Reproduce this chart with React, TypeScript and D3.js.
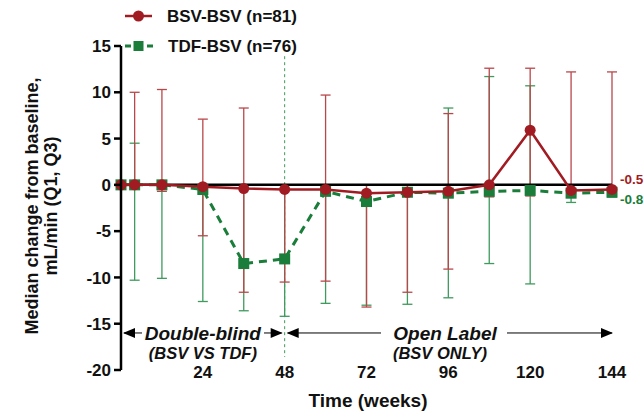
import React from "react";
import * as d3 from "d3";

const weeks = [0, 4, 12, 24, 36, 48, 60, 72, 84, 96, 108, 120, 132, 144];
const bsvMedian = [0, 0, 0, -0.2, -0.4, -0.5, -0.5, -0.9, -0.8, -0.7, 0, 5.9, -0.6, -0.5];
const bsvQ3: (number | null)[] = [null, 10, 10.3, 7.1, 8.3, 0, 9.7, 0, 0, 7.7, 12.6, 12.6, 12.2, 12.2];
const bsvQ1: (number | null)[] = [null, 0, -0.7, -5.5, -11.6, -10.5, -10.4, -13.2, -11.6, -9.1, -1.3, -1.2, -1.2, -1.2];
const tdfMedian = [0, 0, 0, -0.5, -8.5, -8.0, -0.7, -1.8, -0.8, -0.9, -0.7, -0.6, -0.9, -0.8];
const tdfQ3: (number | null)[] = [null, 4.5, 0, 0, 0, 0, 0, 0, 0, 8.3, 11.7, 10.7, -0.5, -0.5];
const tdfQ1: (number | null)[] = [null, -10.3, -10.1, -12.6, -13.6, -14.2, -12.8, -13.0, -12.9, -12.2, -8.5, -10.7, -1.9, -1.3];

const yTicks = [15, 10, 5, 0, -5, -10, -15, -20];
const xTicks = [24, 48, 72, 96, 120, 144];
const seriesNames = ["BSV-BSV (n=81)", "TDF-BSV (n=76)"];
const endLabels = ["-0.5", "-0.8"];

const RED = "#a11c22";
const RED_BAR = "#b9474a";
const GREEN = "#1a7d3a";
const GREEN_BAR = "#3f9a5d";
const FONT = "'Liberation Sans', Arial, sans-serif";

export default function App() {
  const x = d3.scaleLinear().domain([0, 144]).range([121, 612]);
  const y = d3.scaleLinear().domain([-20, 15]).range([370, 46]);

  const line = d3
    .line<number>()
    .x((_, i) => x(weeks[i]))
    .y((d) => y(d));

  const errorBars = (q1: (number | null)[], q3: (number | null)[], color: string) =>
    weeks.map((w, i) => {
      const lo = q1[i];
      const hi = q3[i];
      if (lo === null || hi === null) return null;
      const cx = x(w);
      return (
        <g key={i} stroke={color} strokeWidth={1.3}>
          <line x1={cx} x2={cx} y1={y(hi)} y2={y(lo)} />
          <line x1={cx - 5} x2={cx + 5} y1={y(hi)} y2={y(hi)} />
          <line x1={cx - 5} x2={cx + 5} y1={y(lo)} y2={y(lo)} />
        </g>
      );
    });

  const arrowY = y(-16);
  const head = (tipX: number, dir: number) => {
    const pts = [
      [tipX, arrowY],
      [tipX - dir * 12, arrowY - 5],
      [tipX - dir * 12, arrowY + 5],
    ];
    return <polygon points={pts.map((p) => p.join(",")).join(" ")} fill="#000" />;
  };

  return (
    <svg
      width={644}
      height={415}
      style={{ position: "absolute", left: 0, top: 0, background: "#fff" }}
      fontFamily={FONT}
    >
      {/* legend */}
      <g>
        <line x1={125} x2={152} y1={16} y2={16} stroke={RED} strokeWidth={2.5} />
        <circle cx={138.5} cy={16} r={5.5} fill={RED} />
        <text x={167} y={16} dy="0.36em" fontSize={17} fontWeight="bold" fill="#111">
          {seriesNames[0]}
        </text>
        <line x1={125} x2={153} y1={46} y2={46} stroke={GREEN} strokeWidth={3} strokeDasharray="6,5" />
        <rect x={133.5} y={41} width={10} height={10} fill={GREEN} />
        <text x={168} y={46} dy="0.36em" fontSize={17} fontWeight="bold" fill="#111">
          {seriesNames[1]}
        </text>
      </g>

      {/* dashed vertical at week 48 */}
      <line
        x1={x(48)}
        x2={x(48)}
        y1={y(13.9)}
        y2={y(-18.6)}
        stroke={GREEN_BAR}
        strokeWidth={1}
        strokeDasharray="3,3"
      />

      {/* error bars */}
      {errorBars(tdfQ1, tdfQ3, GREEN_BAR)}
      {errorBars(bsvQ1, bsvQ3, RED_BAR)}

      {/* zero line */}
      <line x1={x(0)} x2={x(144)} y1={y(0)} y2={y(0)} stroke="#000" strokeWidth={2.5} />

      {/* TDF series */}
      <path d={line(tdfMedian) || ""} fill="none" stroke={GREEN} strokeWidth={3} strokeDasharray="8,6" />
      {tdfMedian.map((v, i) => (
        <rect key={i} x={x(weeks[i]) - 5.5} y={y(v) - 5.5} width={11} height={11} fill={GREEN} />
      ))}

      {/* BSV series */}
      <path d={line(bsvMedian) || ""} fill="none" stroke={RED} strokeWidth={2.5} />
      {bsvMedian.map((v, i) => (
        <circle key={i} cx={x(weeks[i])} cy={y(v)} r={5.5} fill={RED} />
      ))}

      {/* y axis */}
      <line x1={121} x2={121} y1={y(15)} y2={y(-20)} stroke="#000" strokeWidth={2.5} />
      {yTicks.map((t) => (
        <g key={t}>
          <line x1={114} x2={121} y1={y(t)} y2={y(t)} stroke="#000" strokeWidth={2.5} />
          <text x={111} y={y(t)} dy="0.36em" textAnchor="end" fontSize={17} fontWeight="bold" fill="#111">
            {t}
          </text>
        </g>
      ))}

      {/* x tick labels */}
      {xTicks.map((t) => (
        <text key={t} x={x(t)} y={372} dy="0.36em" textAnchor="middle" fontSize={17} fontWeight="bold" fill="#111">
          {t}
        </text>
      ))}

      {/* axis titles */}
      <text x={368} y={400} dy="0.36em" textAnchor="middle" fontSize={19} fontWeight="bold" fill="#111">
        Time (weeks)
      </text>
      <g transform={`translate(32, 206) rotate(-90)`}>
        <text x={0} y={0} dy="0.36em" textAnchor="middle" fontSize={18} fontWeight="bold" fill="#111">
          Median change from baseline,
        </text>
        <text x={0} y={19} dy="0.36em" textAnchor="middle" fontSize={18} fontWeight="bold" fill="#111">
          mL/min (Q1, Q3)
        </text>
      </g>

      {/* period annotations */}
      <line x1={x(0) + 3} x2={142} y1={arrowY} y2={arrowY} stroke="#000" strokeWidth={1} />
      {head(x(0) + 2, -1)}
      <line x1={264} x2={x(48) - 3} y1={arrowY} y2={arrowY} stroke="#000" strokeWidth={1} />
      {head(x(48) - 2, 1)}
      <text x={x(24)} y={arrowY} dy="0.36em" textAnchor="middle" fontSize={19} fontWeight="bold" fontStyle="italic" fill="#111">
        Double-blind
      </text>
      <text x={x(24)} y={353} dy="0.36em" textAnchor="middle" fontSize={16.5} fontWeight="bold" fontStyle="italic" fill="#111">
        (BSV VS TDF)
      </text>

      <line x1={x(48) + 3} x2={381} y1={arrowY} y2={arrowY} stroke="#000" strokeWidth={1} />
      {head(x(48) + 2, -1)}
      <line x1={507} x2={x(144)} y1={arrowY} y2={arrowY} stroke="#000" strokeWidth={1} />
      {head(x(144) + 1, 1)}
      <text x={445} y={arrowY} dy="0.36em" textAnchor="middle" fontSize={19} fontWeight="bold" fontStyle="italic" fill="#111">
        Open Label
      </text>
      <text x={440} y={353} dy="0.36em" textAnchor="middle" fontSize={16.5} fontWeight="bold" fontStyle="italic" fill="#111">
        (BSV ONLY)
      </text>

      {/* end labels */}
      <text x={620} y={y(bsvMedian[13]) - 10} dy="0.36em" fontSize={13.5} fontWeight="bold" fill={RED}>
        {endLabels[0]}
      </text>
      <text x={620} y={y(tdfMedian[13]) + 7} dy="0.36em" fontSize={13.5} fontWeight="bold" fill={GREEN}>
        {endLabels[1]}
      </text>
    </svg>
  );
}
